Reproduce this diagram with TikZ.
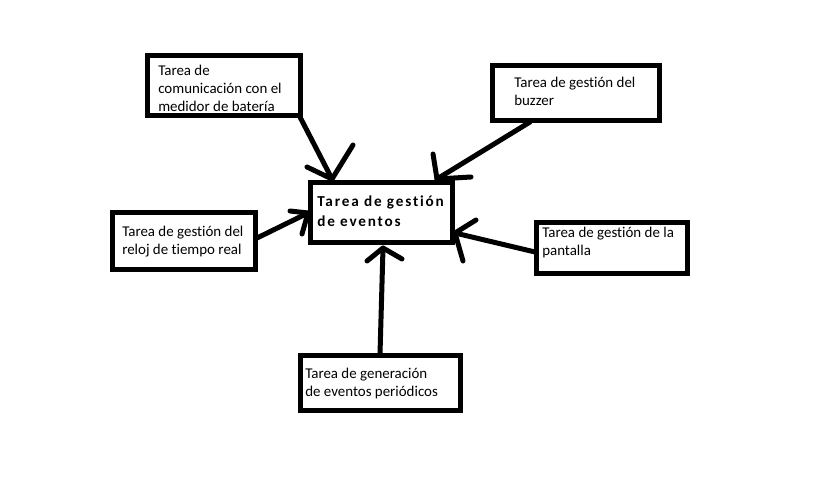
\documentclass[tikz,border=0pt]{standalone}
\usepackage{fontspec}
\setmainfont[Ligatures=NoCommon]{Carlito}
\newfontfamily\boldsp[LetterSpace=12,Ligatures=NoCommon]{Carlito}
\begin{document}
\begin{tikzpicture}[x=0.75pt,y=-0.75pt,
  box/.style 2 args={draw, line width=3.75pt, minimum width=#1*0.75pt, minimum height=#2*0.75pt, inner sep=0pt, outer sep=0pt},
  lbl/.style={anchor=base west, inner sep=0pt, align=left, font=\fontsize{11.2pt}{13.6pt}\selectfont},
  mainlbl/.style={anchor=base west, inner sep=0pt, align=left, font=\fontsize{11.4pt}{15pt}\selectfont\boldsp\bfseries},
  conn/.style={line width=3.75pt, line cap=round, line join=round}]
\useasboundingbox[fill=white] (0,0) rectangle (817,484);

% boxes
\node[box={152.5}{60}]   (bat)  at (223.75,85.5) {};
\node[box={166.5}{55}]   (buz)  at (575.75,93) {};
\node[box={142.5}{60.5}] (ev)   at (381.25,212.75) {};
\node[box={142.5}{57.5}] (rel)  at (183.75,241.25) {};
\node[box={151}{51.5}]   (pan)  at (611.5,248.25) {};
\node[box={160}{55}]     (per)  at (380.5,383) {};

% labels (anchored at the baseline of their last line)
\node[lbl] (tbat) at (158,111.5) {Tarea de\\comunicación con el\\medidor de batería};
\node[lbl] (tbuz) at (514,106) {Tarea de gestión del\\buzzer};
\node[mainlbl] (tev) at (317,227) {Tarea de gestión\\de eventos};
\node[lbl] (trel) at (122,255) {Tarea de gestión del\\reloj de tiempo real};
\node[lbl] (tpan) at (542,256) {Tarea de gestión de la\\pantalla};
\node[lbl] (tper) at (305,397) {Tarea de generación\\de eventos periódicos};

% connector coordinates
\coordinate (a1s) at (300,117); \coordinate (a1t) at (332,179);
\coordinate (a1h1) at (307,167); \coordinate (a1h2) at (353,145);
\coordinate (a2s) at (530,122); \coordinate (a2t) at (437,179);
\coordinate (a2h1) at (433,154); \coordinate (a2h2) at (471,177);
\coordinate (a3s) at (257,238); \coordinate (a3t) at (308,213);
\coordinate (a3h1) at (290,211); \coordinate (a3h2) at (302,234);
\coordinate (a4s) at (535,252); \coordinate (a4t) at (455,233);
\coordinate (a4h1) at (476,220); \coordinate (a4h2) at (463,261);
\coordinate (a5s) at (380,354); \coordinate (a5t) at (383,248);
\coordinate (a5h1) at (367,261); \coordinate (a5h2) at (402,259);

% connectors
\draw[conn] (a1s) -- (a1t); \draw[conn] (a1h1) -- (a1t) -- (a1h2);
\draw[conn] (a2s) -- (a2t); \draw[conn] (a2h1) -- (a2t) -- (a2h2);
\draw[conn] (a3s) -- (a3t); \draw[conn] (a3h1) -- (a3t) -- (a3h2);
\draw[conn] (a4s) -- (a4t); \draw[conn] (a4h1) -- (a4t) -- (a4h2);
\draw[conn] (a5s) -- (a5t); \draw[conn] (a5h1) -- (a5t) -- (a5h2);
\end{tikzpicture}
\end{document}
